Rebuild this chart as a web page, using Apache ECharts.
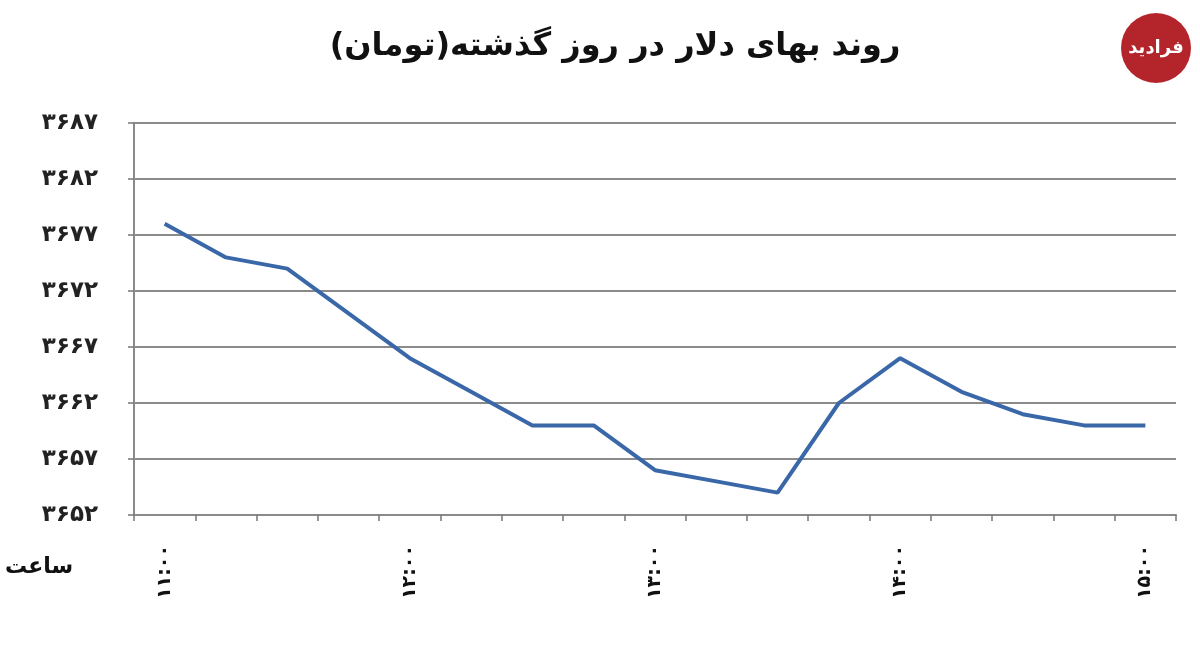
<!DOCTYPE html>
<html>
<head>
<meta charset="utf-8">
<script src="https://cdn.jsdelivr.net/npm/echarts@6/dist/echarts.min.js"></script>
<style>
html,body{margin:0;padding:0;background:#fff;}
#chart{width:1200px;height:672px;}
</style>
</head>
<body>
<div id="chart"></div>
<script>
// Categories: every 15 minutes from 11:00 to 15:00
const times = ["11:00","11:15","11:30","11:45","12:00","12:15","12:30","12:45","13:00","13:15","13:30","13:45","14:00","14:15","14:30","14:45","15:00"];
// Dollar price (toman)
const prices = [3678, 3675, 3674, 3670, 3666, 3663, 3660, 3660, 3656, 3655, 3654, 3662, 3666, 3663, 3661, 3660, 3660];
const yMin = 3652, yMax = 3687, yStep = 5;
const titleText = "روند بهای دلار در روز گذشته(تومان)";
const xAxisLabel = "ساعت";
const logoText = "فرادید";

const fa = s => String(s).replace(/\d/g, d => "۰۱۲۳۴۵۶۷۸۹"[d]);
const FONT = "'DejaVu Sans', sans-serif";

const chart = echarts.init(document.getElementById('chart'));
chart.setOption({
  backgroundColor: '#ffffff',
  animation: false,
  title: {
    text: titleText,
    left: 610, top: 26, textAlign: 'center',
    textStyle: { fontFamily: FONT, fontSize: 32, fontWeight: 'bold', color: '#111' }
  },
  grid: { left: 134, right: 24, top: 123, bottom: 157, containLabel: false },
  xAxis: {
    type: 'category',
    data: times,
    boundaryGap: true,
    axisLine: { lineStyle: { color: '#8a8a8a', width: 2 } },
    axisTick: { show: true, interval: 0, length: 6, lineStyle: { color: '#777', width: 1.5 } },
    axisLabel: {
      interval: 3, rotate: 90, margin: 30,
      formatter: v => fa(v),
      fontFamily: FONT, fontSize: 19, fontWeight: 'bold', color: '#111'
    },
    splitLine: { show: false }
  },
  yAxis: {
    type: 'value',
    min: yMin, max: yMax, interval: yStep,
    axisLine: { show: true, lineStyle: { color: '#8a8a8a', width: 2 } },
    axisTick: { show: true, length: 6, lineStyle: { color: '#777', width: 1.5 } },
    axisLabel: {
      margin: 36, formatter: v => fa(v),
      fontFamily: FONT, fontSize: 23, fontWeight: 'bold', color: '#222'
    },
    splitLine: { show: true, lineStyle: { color: '#8a8a8a', width: 2 } }
  },
  series: [{
    type: 'line',
    data: prices,
    showSymbol: false,
    symbol: 'none',
    lineStyle: { color: '#3a67a8', width: 4 },
    z: 5
  }],
  graphic: [
    { type: 'text', left: 5, top: 556,
      style: { text: xAxisLabel, font: "bold 22px 'DejaVu Sans', sans-serif", fill: '#111' } },
    { type: 'circle', shape: { cx: 1156, cy: 48, r: 35 }, style: { fill: '#b4252b' } },
    { type: 'text', x: 1156, y: 48,
      style: { text: logoText, font: "bold 18px 'DejaVu Sans', sans-serif", fill: '#fff', align: 'center', verticalAlign: 'middle' } }
  ]
});
</script>
</body>
</html>
